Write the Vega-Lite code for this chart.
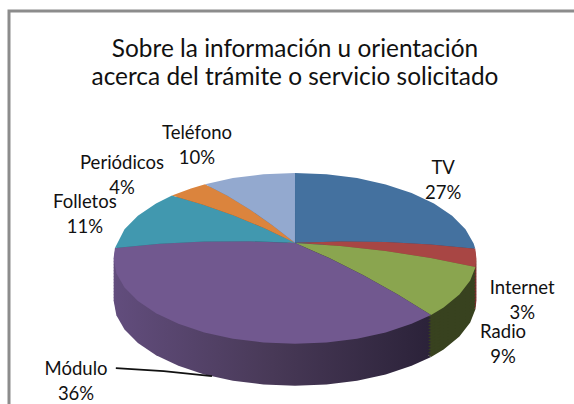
{
"$schema":"https://vega.github.io/schema/vega-lite/v6.json",
"width":600,"height":420,
"autosize":{"type":"none"},
"padding":{"left":9,"top":11,"right":0,"bottom":0},
"background":"white",
"view":{"stroke":"#8c8c8c","strokeWidth":3,"fill":"white"},
"title":{"text":["Sobre la información u orientación","acerca del trámite o servicio solicitado"],"anchor":"start","frame":"group","align":"center","dx":286,"offset":-79,"lineHeight":28,"fontSize":24.4,"font":"Lato","fontWeight":"normal","color":"#111111"},
"data":{"values":[
{"name":"TV","pct":27,"label":"TV\n27%","labelLon":142.56,"labelLat":75.04,"geo":{"type":"Polygon","coordinates":[[[138,89.99],[180,78.92],[170,78.92],[160,78.92],[150,78.92],[140,78.92],[130,78.92],[120,78.92],[110,78.92],[100,78.92],[96.4,78.92],[138,89.99]]]}},
{"name":"Internet","pct":3,"label":"Internet\n3%","labelLon":74.0,"labelLat":75.5,"geo":{"type":"Polygon","coordinates":[[[90,89.99],[96.4,78.92],[90,78.92],[84.3,78.92],[90,89.99]]]}},
{"name":"Radio","pct":9,"label":"Radio\n9%","labelLon":54.45,"labelLat":74.28,"geo":{"type":"Polygon","coordinates":[[[66,89.99],[84.3,78.92],[75,78.92],[65,78.92],[55,78.92],[48.6,78.92],[66,89.99]]]}},
{"name":"Módulo","pct":36,"label":"Módulo\n36%","labelLon":-47.23,"labelLat":71.58,"geo":{"type":"Polygon","coordinates":[[[-24,89.99],[48.6,78.92],[40,78.92],[30,78.92],[20,78.92],[10,78.92],[0,78.92],[-10,78.92],[-20,78.92],[-30,78.92],[-40,78.92],[-50,78.92],[-60,78.92],[-70,78.92],[-80,78.92],[-90,78.92],[-97,78.92],[-24,89.99]]]}},
{"name":"Folletos","pct":11,"label":"Folletos\n11%","labelLon":-119.83,"labelLat":75.13,"geo":{"type":"Polygon","coordinates":[[[-117,89.99],[-97,78.92],[-110,78.92],[-120,78.92],[-130,78.92],[-137.3,78.92],[-117,89.99]]]}},
{"name":"Periódicos","pct":4,"label":"Periódicos\n4%","labelLon":-142.65,"labelLat":72.42,"geo":{"type":"Polygon","coordinates":[[[-144,89.99],[-137.3,78.92],[-145,78.92],[-150.3,78.92],[-144,89.99]]]}},
{"name":"Teléfono","pct":10,"label":"Teléfono\n10%","labelLon":-163.39,"labelLat":68.7,"geo":{"type":"Polygon","coordinates":[[[-165,89.99],[-150.3,78.92],[-160,78.92],[-170,78.92],[-180,78.92],[-165,89.99]]]}}
]},
"layer":[
{"encoding":{
  "shape":{"field":"geo","type":"geojson"},
  "fill":{"condition":{"test":"datum.name==='Módulo'","value":{"gradient":"linear","x1":0,"y1":0,"x2":1,"y2":0,"stops":[{"offset":0,"color":"#624d7d"},{"offset":0.5,"color":"#483957"},{"offset":1,"color":"#2b2239"}]}},"field":"name","type":"nominal","legend":null,"scale":{"domain":["TV","Internet","Radio","Folletos","Periódicos","Teléfono"],"range":["#2e4c70","#7a2f2d","#38421f","#2b6475","#935828","#62718a"]}}},
 "layer":[
  {"mark":"geoshape","projection":{"type":"orthographic","rotate":[0,-28.1],"scale":944,"translate":[286,1106.6],"ratio":1}},
  {"mark":"geoshape","projection":{"type":"orthographic","rotate":[0,-28.1],"scale":944,"translate":[286,1103.6],"ratio":2}},
  {"mark":"geoshape","projection":{"type":"orthographic","rotate":[0,-28.1],"scale":944,"translate":[286,1100.6],"ratio":3}},
  {"mark":"geoshape","projection":{"type":"orthographic","rotate":[0,-28.1],"scale":944,"translate":[286,1097.6],"ratio":4}},
  {"mark":"geoshape","projection":{"type":"orthographic","rotate":[0,-28.1],"scale":944,"translate":[286,1094.6],"ratio":5}},
  {"mark":"geoshape","projection":{"type":"orthographic","rotate":[0,-28.1],"scale":944,"translate":[286,1091.6],"ratio":6}},
  {"mark":"geoshape","projection":{"type":"orthographic","rotate":[0,-28.1],"scale":944,"translate":[286,1088.6],"ratio":7}},
  {"mark":"geoshape","projection":{"type":"orthographic","rotate":[0,-28.1],"scale":944,"translate":[286,1085.6],"ratio":8}},
  {"mark":"geoshape","projection":{"type":"orthographic","rotate":[0,-28.1],"scale":944,"translate":[286,1082.6],"ratio":9}},
  {"mark":"geoshape","projection":{"type":"orthographic","rotate":[0,-28.1],"scale":944,"translate":[286,1079.6],"ratio":10}},
  {"mark":"geoshape","projection":{"type":"orthographic","rotate":[0,-28.1],"scale":944,"translate":[286,1076.6],"ratio":11}},
  {"mark":"geoshape","projection":{"type":"orthographic","rotate":[0,-28.1],"scale":944,"translate":[286,1073.6],"ratio":12}},
  {"mark":"geoshape","projection":{"type":"orthographic","rotate":[0,-28.1],"scale":944,"translate":[286,1070.6],"ratio":13}},
  {"mark":"geoshape","projection":{"type":"orthographic","rotate":[0,-28.1],"scale":944,"translate":[286,1067.6],"ratio":14}}
 ]},
{"mark":"geoshape","projection":{"type":"orthographic","rotate":[0,-28.1],"scale":944,"translate":[286,1064.6]},
 "encoding":{"shape":{"field":"geo","type":"geojson"},
  "fill":{"field":"name","type":"nominal","legend":null,"scale":{"domain":["TV","Internet","Radio","Módulo","Folletos","Periódicos","Teléfono"],"range":["#44719f","#a84644","#8aa54f","#71588f","#4198af","#db843d","#93a9cf"]}}}},
{"data":{"values":[{"name":"leader","geo":{"type":"LineString","coordinates":[[-42.58,73.71],[-20.27,75.29]]}}]},
 "mark":{"type":"geoshape","filled":false,"stroke":"#111111","strokeWidth":1.8},
 "projection":{"type":"orthographic","rotate":[0,-28.1],"scale":944,"translate":[286,1064.6]},
 "encoding":{"shape":{"field":"geo","type":"geojson"}}},
{"mark":{"type":"text","font":"Lato","fontSize":18.5,"lineBreak":"\n","lineHeight":25,"align":"center","baseline":"middle","dy":-12,"color":"#111111"},
 "projection":{"type":"orthographic","rotate":[0,-28.1],"scale":944,"translate":[286,1064.6]},
 "encoding":{"longitude":{"field":"labelLon","type":"quantitative"},"latitude":{"field":"labelLat","type":"quantitative"},"text":{"field":"label","type":"nominal"}}}
],
"resolve":{"scale":{"fill":"independent"}}
}
